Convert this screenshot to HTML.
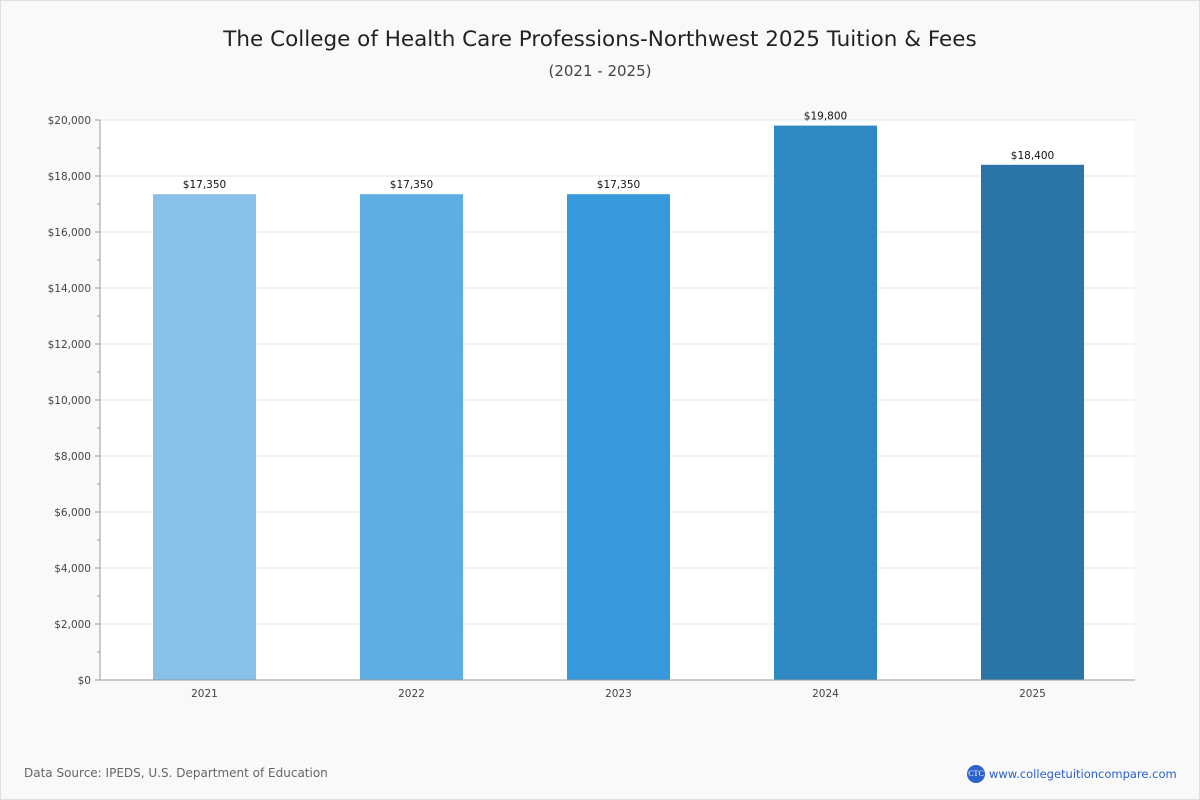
<!DOCTYPE html>
<html><head><meta charset="utf-8"><style>
html,body{margin:0;padding:0;}
body{width:1200px;height:800px;background:#f9f9f9;font-family:"DejaVu Sans","Liberation Sans",sans-serif;position:relative;overflow:hidden;}
#frame{position:absolute;left:0;top:0;width:1198px;height:798px;border:1px solid #e0e0e0;}
#title{position:absolute;top:27px;width:100%;text-align:center;font-size:21.5px;color:#222;}
#sub{position:absolute;top:62px;width:100%;text-align:center;font-size:15px;color:#444;}
#src{position:absolute;left:24px;top:766px;font-size:12px;color:#666;}
#logo{position:absolute;left:967px;top:765px;font-size:11.5px;color:#2a5fd0;display:flex;align-items:center;}
#logo span.c{display:inline-block;width:18px;height:18px;border-radius:50%;background:#2e62cc;color:#fff;font-size:8px;line-height:18px;text-align:center;margin-right:4px;font-family:"Liberation Serif",serif;}
svg{position:absolute;left:0;top:0;}
</style></head><body>
<div id="frame"></div>
<div id="title">The College of Health Care Professions-Northwest 2025 Tuition &amp; Fees</div>
<div id="sub">(2021 - 2025)</div>
<svg id="chart" width="1200" height="800"></svg>
<div id="src">Data Source: IPEDS, U.S. Department of Education</div>
<div id="logo"><span class="c">CTC</span>www.collegetuitioncompare.com</div>
<script>
const categories=["2021","2022","2023","2024","2025"];
const values=[17350,17350,17350,19800,18400];
const valueLabels=["$17,350","$17,350","$17,350","$19,800","$18,400"];
const tickValues=[0,2000,4000,6000,8000,10000,12000,14000,16000,18000,20000];
const colors=["#89c0e8","#5eade3","#3799db","#2e88c2","#2a75a8"];
const NS="http://www.w3.org/2000/svg";
const svg=document.getElementById('chart');
const L=100,R=1135,T=120,B=680,maxV=20000;
const y=v=>B-(v/maxV)*(B-T);
const band=(R-L)/categories.length;
const x=i=>L+band*(i+0.5)+1;
function mk(tag,attrs,txt){const e=document.createElementNS(NS,tag);for(const k in attrs)e.setAttribute(k,attrs[k]);if(txt!==undefined)e.textContent=txt;svg.appendChild(e);return e;}
const bg=mk('rect',{x:L,y:T,width:R-L,height:B-T,fill:'#fff'});


tickValues.forEach((v,i)=>{
 const g=mk('line',{x1:L,x2:R,y1:y(v),y2:y(v),stroke:'#e4e4e4','stroke-width':1});
 
 
 mk('line',{x1:L-5,x2:L,y1:y(v),y2:y(v),stroke:'#999'});
 if(i<tickValues.length-1)mk('line',{x1:L-3,x2:L,y1:y(v+1000),y2:y(v+1000),stroke:'#999'});
 const t=mk('text',{x:L-9,y:y(v)+4,'text-anchor':'end','font-size':10.5,fill:'#444'},'$'+v.toLocaleString('en-US'));
 
 
});
mk('line',{x1:L,x2:L,y1:T,y2:B,stroke:'#999'});
categories.forEach((c,i)=>{
 const w=103;
 const r=mk('rect',{x:x(i)-w/2,y:y(values[i]),width:w,height:B-y(values[i]),fill:colors[i]});
 
 
 const vl=mk('text',{x:x(i),y:y(values[i])-6,'text-anchor':'middle','font-size':10.5,fill:'#111'},valueLabels[i]);
 
 
 const xl=mk('text',{x:x(i),y:B+17,'text-anchor':'middle','font-size':10.5,fill:'#444'},c);
 
 
});
mk('line',{x1:L,x2:R,y1:B,y2:B,stroke:'#999'});
</script>
</body></html>
